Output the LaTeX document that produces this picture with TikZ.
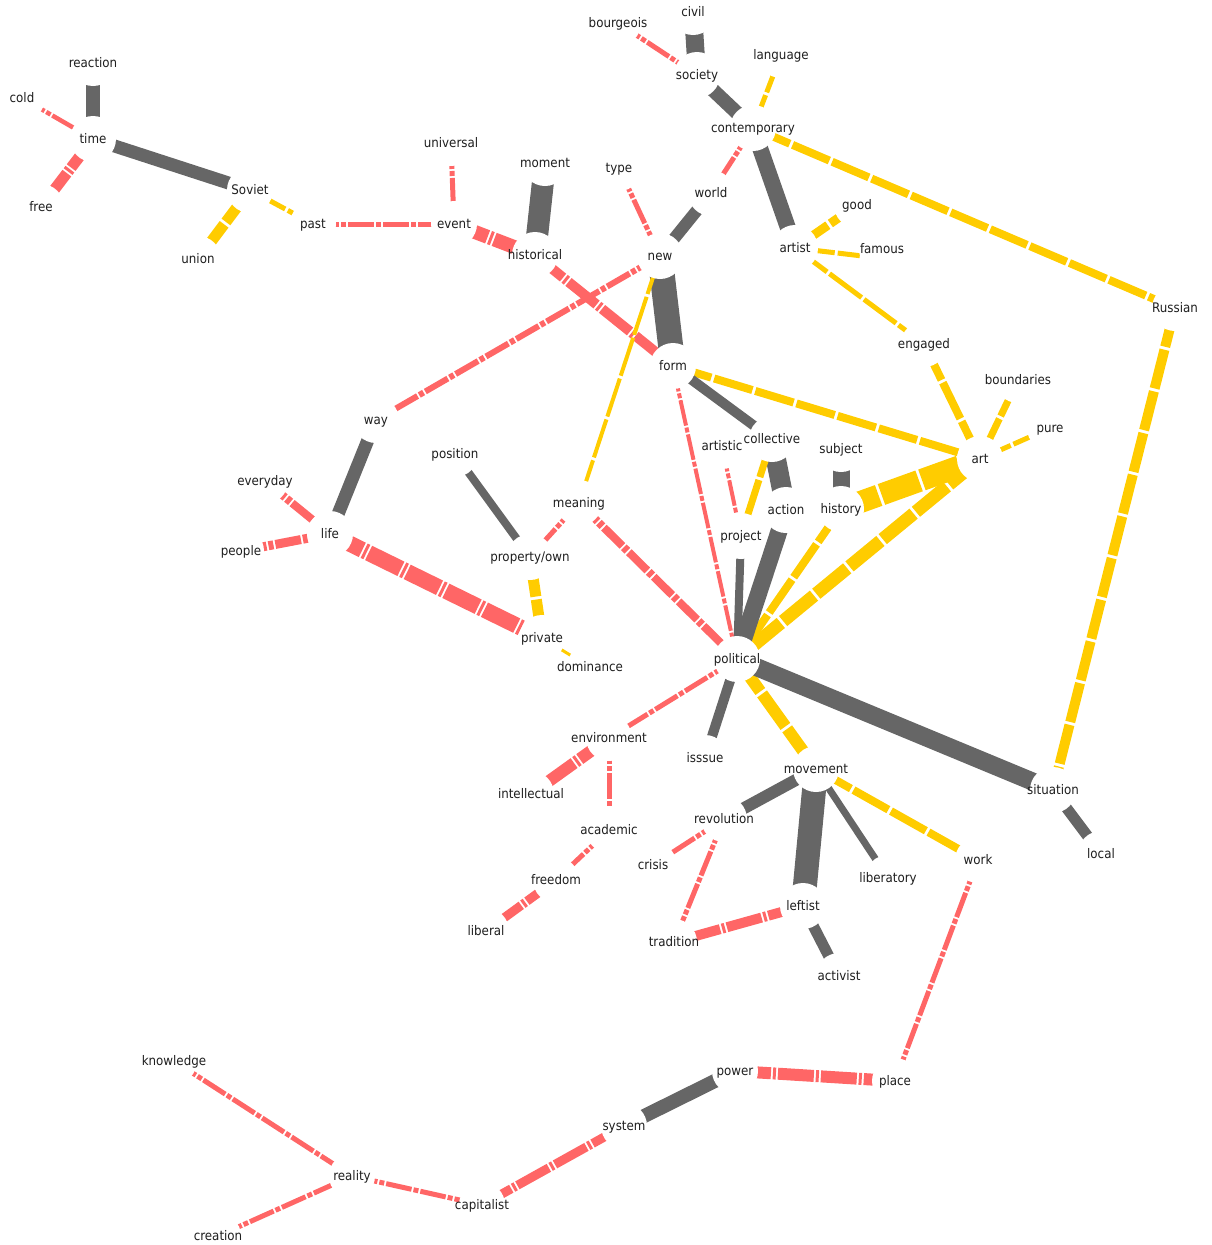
\documentclass[tikz,border=0pt]{standalone}
\usepackage{fontspec}
\setmainfont{DejaVu Sans Condensed}
\definecolor{egray}{HTML}{666666}
\definecolor{ered}{HTML}{FF6666}
\definecolor{eyel}{HTML}{FFCC00}
\pgfdeclarelayer{edges}
\pgfsetlayers{edges,main}
\begin{document}
\begin{tikzpicture}[x=1pt,y=-1pt,
  lab/.style={font=\fontsize{13.2}{15}\selectfont, inner sep=0pt, text height=11pt, text depth=2pt, anchor=center, text=black!88},
  ge/.style={draw=egray, line width=#1pt},
  re/.style={draw=ered, line width=#1pt, dash pattern=on 26pt off 2pt on 5pt off 2pt},
  rt/.style={draw=ered, line width=#1pt, dash pattern=on 36pt off 2pt on 3pt off 2pt},
  ye/.style={draw=eyel, line width=#1pt, dash pattern=on 40pt off 3pt},
  disc/.style={fill=white}]
\useasboundingbox (0,0) rectangle (1212,1245);
% nodes
\node[lab] (civil) at (693,12) {civil};
\node[lab] (bourgeois) at (618,23) {bourgeois};
\node[lab] (language) at (781,55) {language};
\node[lab] (society) at (697,75) {society};
\node[lab] (contemporary) at (753,128) {contemporary};
\node[lab] (reaction) at (93,63) {reaction};
\node[lab] (cold) at (22,98) {cold};
\node[lab] (time) at (93,139) {time};
\node[lab] (free) at (41,207) {free};
\node[lab] (Soviet) at (250,190) {Soviet};
\node[lab] (union) at (198,259) {union};
\node[lab] (past) at (313,224) {past};
\node[lab] (universal) at (451,143) {universal};
\node[lab] (moment) at (545,163) {moment};
\node[lab] (type) at (619,168) {type};
\node[lab] (world) at (711,193) {world};
\node[lab] (event) at (454,224) {event};
\node[lab] (historical) at (535,255) {historical};
\node[lab] (new) at (660,256) {new};
\node[lab] (good) at (857,205) {good};
\node[lab] (artist) at (795,248) {artist};
\node[lab] (famous) at (882,249) {famous};
\node[lab] (Russian) at (1175,308) {Russian};
\node[lab] (engaged) at (924,344) {engaged};
\node[lab] (boundaries) at (1018,380) {boundaries};
\node[lab] (pure) at (1050,428) {pure};
\node[lab] (art) at (980,459) {art};
\node[lab] (form) at (673,366) {form};
\node[lab] (way) at (376,420) {way};
\node[lab] (position) at (455,454) {position};
\node[lab] (artistic) at (722,446) {artistic};
\node[lab] (collective) at (772,439) {collective};
\node[lab] (subject) at (841,449) {subject};
\node[lab] (everyday) at (265,481) {everyday};
\node[lab] (meaning) at (579,503) {meaning};
\node[lab] (action) at (786,510) {action};
\node[lab] (history) at (841,509) {history};
\node[lab] (life) at (330,534) {life};
\node[lab] (people) at (241,551) {people};
\node[lab] (project) at (741,536) {project};
\node[lab] (property) at (530,557) {property/own};
\node[lab] (private) at (542,638) {private};
\node[lab] (dominance) at (590,667) {dominance};
\node[lab] (political) at (737,659) {political};
\node[lab] (environment) at (609,738) {environment};
\node[lab] (isssue) at (705,758) {isssue};
\node[lab] (movement) at (816,769) {movement};
\node[lab] (situation) at (1053,790) {situation};
\node[lab] (intellectual) at (531,794) {intellectual};
\node[lab] (academic) at (609,830) {academic};
\node[lab] (revolution) at (724,819) {revolution};
\node[lab] (crisis) at (653,865) {crisis};
\node[lab] (local) at (1101,854) {local};
\node[lab] (work) at (978,860) {work};
\node[lab] (liberatory) at (888,878) {liberatory};
\node[lab] (freedom) at (556,880) {freedom};
\node[lab] (leftist) at (803,906) {leftist};
\node[lab] (liberal) at (486,931) {liberal};
\node[lab] (tradition) at (674,942) {tradition};
\node[lab] (activist) at (839,976) {activist};
\node[lab] (knowledge) at (174,1061) {knowledge};
\node[lab] (power) at (735,1071) {power};
\node[lab] (place) at (895,1081) {place};
\node[lab] (system) at (624,1126) {system};
\node[lab] (reality) at (352,1176) {reality};
\node[lab] (capitalist) at (482,1205) {capitalist};
\node[lab] (creation) at (218,1236) {creation};
\begin{pgfonlayer}{edges}
% edges
\draw[ge=18] (civil.center) -- (society.center);
\draw[re=5] (bourgeois.center) -- (society.center);
\draw[ge=14] (society.center) -- (contemporary.center);
\draw[ye=5] (language.center) -- (contemporary.center);
\draw[re=5] (contemporary.center) -- (world.center);
\draw[ge=16] (contemporary.center) -- (artist.center);
\draw[ye=8] (contemporary.center) -- (Russian.center);
\draw[ge=14] (reaction.center) -- (time.center);
\draw[re=4.5] (cold.center) -- (time.center);
\draw[rt=11] (time.center) -- (free.center);
\draw[ge=13] (time.center) -- (Soviet.center);
\draw[ye=11] (Soviet.center) -- (union.center);
\draw[ye=5] (Soviet.center) -- (past.center);
\draw[re=5] (past.center) -- (event.center);
\draw[re=5] (universal.center) -- (event.center);
\draw[rt=14] (event.center) -- (historical.center);
\draw[ge=22] (moment.center) -- (historical.center);
\draw[re=5] (type.center) -- (new.center);
\draw[ge=12] (world.center) -- (new.center);
\draw[rt=10] (historical.center) -- (form.center);
\draw[re=6] (new.center) -- (way.center);
\draw[ge=25] (new.center) -- (form.center);
\draw[ye=4] (new.center) -- (meaning.center);
\draw[ye=9] (artist.center) -- (good.center);
\draw[ye=5] (artist.center) -- (famous.south west);
\draw[ye=5] (artist.center) -- (engaged.center);
\draw[ye=10] (Russian.center) -- (situation.center);
\draw[ye=8] (engaged.center) -- (art.center);
\draw[ye=7] (boundaries.center) -- (art.center);
\draw[ye=5] (pure.center) -- (art.center);
\draw[ye=8] (form.center) -- (art.center);
\draw[ge=10] (form.center) -- (collective.center);
\draw[re=4] (form.center) -- (political.center);
\draw[ge=17] (subject.center) -- (history.center);
\draw[ye=22] (history.center) -- (art.center);
\draw[ye=13] (art.center) -- (political.center);
\draw[ye=8] (history.center) -- (political.center);
\draw[ge=20] (collective.center) -- (action.center);
\draw[re=4] (artistic.center) -- (project.center);
\draw[ye=7] (collective.center) -- (project.center);
\draw[ge=17] (action.center) -- (political.center);
\draw[ge=8] (project.center) -- (political.center);
\draw[ge=13] (way.center) -- (life.center);
\draw[re=8] (everyday.center) -- (life.center);
\draw[re=9] (people.center) -- (life.center);
\draw[rt=16] (life.center) -- (private.center);
\draw[ge=8] (position.center) -- (property.center);
\draw[re=5] (meaning.center) -- (property.center);
\draw[re=8] (meaning.center) -- (political.center);
\draw[ye=11] (property.center) -- (private.center);
\draw[ye=3] (private.center) -- (dominance.center);
\draw[re=5] (political.center) -- (environment.center);
\draw[ge=10] (political.center) -- (isssue.center);
\draw[ye=12] (political.center) -- (movement.center);
\draw[ge=18] (political.center) -- (situation.center);
\draw[rt=12] (environment.center) -- (intellectual.center);
\draw[re=5] (environment.center) -- (academic.center);
\draw[ge=12] (movement.center) -- (revolution.center);
\draw[ge=24] (movement.center) -- (leftist.center);
\draw[ge=7] (movement.center) -- (liberatory.center);
\draw[ye=8] (movement.center) -- (work.center);
\draw[ge=11] (situation.center) -- (local.center);
\draw[re=5] (academic.center) -- (freedom.center);
\draw[rt=9] (freedom.center) -- (liberal.center);
\draw[re=5] (revolution.center) -- (crisis.center);
\draw[re=5] (revolution.center) -- (tradition.center);
\draw[rt=10] (leftist.center) -- (tradition.center);
\draw[ge=11] (leftist.center) -- (activist.center);
\draw[re=5] (work.center) -- (place.center);
\draw[rt=12] (power.center) -- (place.center);
\draw[ge=14] (system.center) -- (power.center);
\draw[rt=9] (system.center) -- (capitalist.center);
\draw[re=5] (reality.center) -- (capitalist.center);
\draw[re=5] (knowledge.center) -- (reality.center);
\draw[re=5] (creation.center) -- (reality.center);
% white discs around nodes
\foreach \n in {civil,bourgeois,language,society,contemporary,reaction,cold,time,free,Soviet,union,past,universal,moment,type,world,event,historical,new,good,artist,famous,Russian,engaged,boundaries,pure,art,form,way,position,artistic,collective,subject,everyday,meaning,action,history,life,people,project,property,private,dominance,political,environment,isssue,movement,situation,intellectual,academic,revolution,crisis,local,work,liberatory,freedom,leftist,liberal,tradition,activist,knowledge,power,place,system,reality,capitalist,creation}
  \fill[disc] (\n.center) circle (23pt);
\end{pgfonlayer}
\end{tikzpicture}
\end{document}
